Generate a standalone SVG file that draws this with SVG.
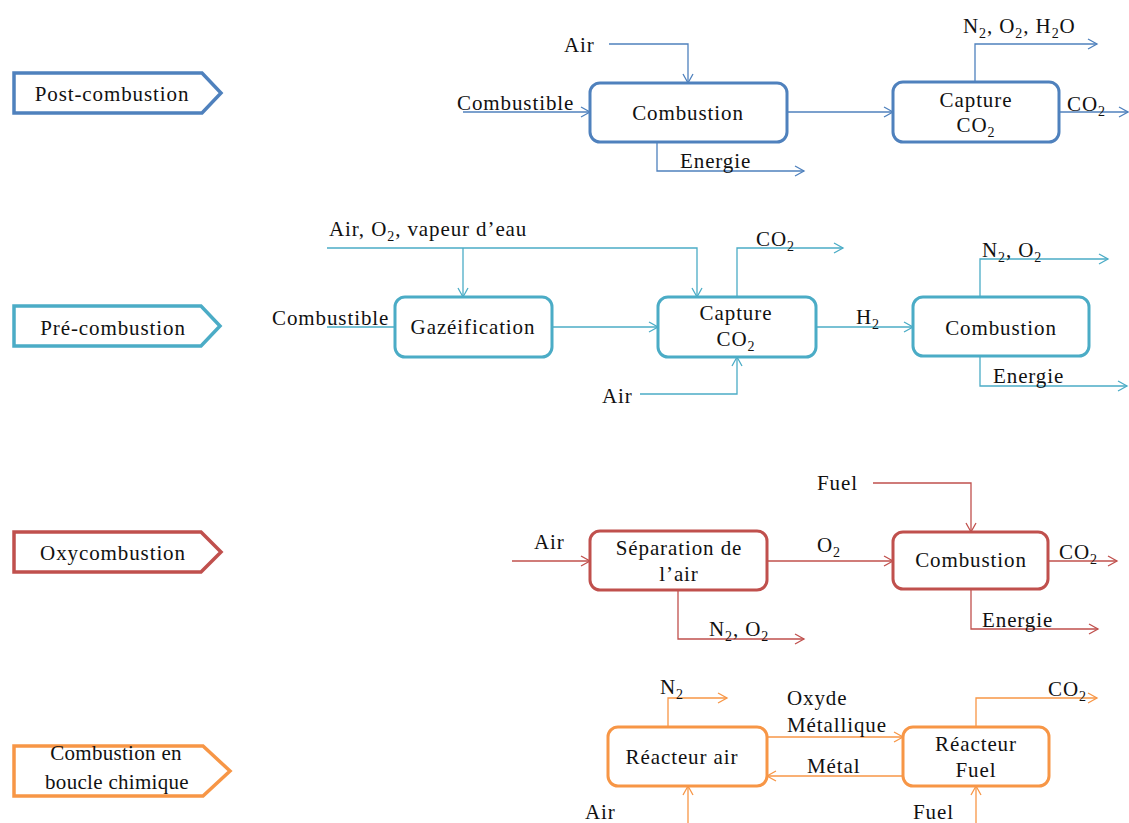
<svg xmlns="http://www.w3.org/2000/svg" width="1129" height="823" viewBox="0 0 1129 823">
<defs>
<style>
text{font-family:"Liberation Serif","Times New Roman",serif;font-size:21px;fill:#111;letter-spacing:0.9px}
.c{text-anchor:middle}
.s{font-size:14px}
.lb{stroke-width:3.5;fill:#fff}
.bx{stroke-width:3;fill:#fff}
.ln{fill:none;stroke-width:1.3}
.b{stroke:#4F81BD}.t{stroke:#4BACC6}.r{stroke:#C0504D}.o{stroke:#F79646}
</style>
<marker id="mb" markerWidth="12" markerHeight="12" refX="10" refY="6" orient="auto" markerUnits="userSpaceOnUse"><path d="M1,1 L10,6 L1,11" fill="none" stroke="#4F81BD" stroke-width="1.3"/></marker>
<marker id="mt" markerWidth="12" markerHeight="12" refX="10" refY="6" orient="auto" markerUnits="userSpaceOnUse"><path d="M1,1 L10,6 L1,11" fill="none" stroke="#4BACC6" stroke-width="1.3"/></marker>
<marker id="mr" markerWidth="12" markerHeight="12" refX="10" refY="6" orient="auto" markerUnits="userSpaceOnUse"><path d="M1,1 L10,6 L1,11" fill="none" stroke="#C0504D" stroke-width="1.3"/></marker>
<marker id="mo" markerWidth="12" markerHeight="12" refX="10" refY="6" orient="auto" markerUnits="userSpaceOnUse"><path d="M1,1 L10,6 L1,11" fill="none" stroke="#F79646" stroke-width="1.3"/></marker>
</defs>
<rect width="1129" height="823" fill="#fff"/>

<!-- connectors -->
<g id="connectors">
<!-- row 1 -->
<path class="ln b" d="M609,44 H688 V83" marker-end="url(#mb)"/>
<path class="ln b" d="M463,112 H590" marker-end="url(#mb)"/>
<path class="ln b" d="M657,142 V171 H804" marker-end="url(#mb)"/>
<path class="ln b" d="M787,112 H893" marker-end="url(#mb)"/>
<path class="ln b" d="M975,82 V44 H1097" marker-end="url(#mb)"/>
<path class="ln b" d="M1059,112 H1128" marker-end="url(#mb)"/>
<!-- row 2 -->
<path class="ln t" d="M327,248 H697 V297" marker-end="url(#mt)"/>
<path class="ln t" d="M463,248 V297" marker-end="url(#mt)"/>
<path class="ln t" d="M327,327 H395"/>
<path class="ln t" d="M552,327 H658" marker-end="url(#mt)"/>
<path class="ln t" d="M737,297 V248 H843" marker-end="url(#mt)"/>
<path class="ln t" d="M640,394 H737 V357" marker-end="url(#mt)"/>
<path class="ln t" d="M816,327 H913" marker-end="url(#mt)"/>
<path class="ln t" d="M980,297 V259 H1108" marker-end="url(#mt)"/>
<path class="ln t" d="M980,356 V386 H1127" marker-end="url(#mt)"/>
<!-- row 3 -->
<path class="ln r" d="M512,561 H590" marker-end="url(#mr)"/>
<path class="ln r" d="M767,561 H893" marker-end="url(#mr)"/>
<path class="ln r" d="M873,483 H971 V532" marker-end="url(#mr)"/>
<path class="ln r" d="M1048,561 H1117" marker-end="url(#mr)"/>
<path class="ln r" d="M971,589 V629 H1098" marker-end="url(#mr)"/>
<path class="ln r" d="M678,590 V639 H804" marker-end="url(#mr)"/>
<!-- row 4 -->
<path class="ln o" d="M668,727 V698 H727" marker-end="url(#mo)"/>
<path class="ln o" d="M767,737 H903" marker-end="url(#mo)"/>
<path class="ln o" d="M903,776 H767" marker-end="url(#mo)"/>
<path class="ln o" d="M688,823 V786" marker-end="url(#mo)"/>
<path class="ln o" d="M976,823 V786" marker-end="url(#mo)"/>
<path class="ln o" d="M976,727 V698 H1097" marker-end="url(#mo)"/>
</g>

<!-- category labels -->
<g id="label-post">
<path class="lb b" d="M14,73 H202 L221,93 L202,113 H14 Z"/>
<text class="c" x="112" y="101">Post-combustion</text>
</g>
<g id="label-pre">
<path class="lb t" d="M14,306 H201 L220,326 L201,346 H14 Z"/>
<text class="c" x="113" y="335">Pré-combustion</text>
</g>
<g id="label-oxy">
<path class="lb r" d="M14,532 H201 L221,552 L201,572 H14 Z"/>
<text class="c" x="113" y="560">Oxycombustion</text>
</g>
<g id="label-clc">
<path class="lb o" d="M14,746 H203 L230,771 L203,796 H14 Z"/>
<text class="c" x="116" y="760" style="letter-spacing:0.3px">Combustion en</text>
<text class="c" x="117" y="789" style="letter-spacing:0.3px">boucle chimique</text>
</g>

<!-- row 1 nodes -->
<g id="r1-combustion">
<rect class="bx b" x="590" y="83" width="197" height="59" rx="10"/>
<text class="c" x="688" y="120">Combustion</text>
</g>
<g id="r1-capture">
<rect class="bx b" x="893" y="82" width="166" height="60" rx="10"/>
<text class="c" x="976" y="107">Capture</text>
<text class="c" x="976" y="132">CO<tspan class="s" dy="5">2</tspan></text>
</g>
<g id="r1-texts">
<text x="564" y="52">Air</text>
<text x="457" y="110">Combustible</text>
<text x="680" y="168">Energie</text>
<text x="963" y="33">N<tspan class="s" dy="5">2</tspan><tspan dy="-5">, O</tspan><tspan class="s" dy="5">2</tspan><tspan dy="-5">, H</tspan><tspan class="s" dy="5">2</tspan><tspan dy="-5">O</tspan></text>
<text x="1067" y="111">CO<tspan class="s" dy="5">2</tspan></text>
</g>

<!-- row 2 nodes -->
<g id="r2-gazeification">
<rect class="bx t" x="395" y="297" width="157" height="60" rx="10"/>
<text class="c" x="473" y="334">Gazéification</text>
</g>
<g id="r2-capture">
<rect class="bx t" x="658" y="297" width="158" height="60" rx="10"/>
<text class="c" x="736" y="320">Capture</text>
<text class="c" x="736" y="346">CO<tspan class="s" dy="5">2</tspan></text>
</g>
<g id="r2-combustion">
<rect class="bx t" x="913" y="297" width="176" height="59" rx="10"/>
<text class="c" x="1001" y="335">Combustion</text>
</g>
<g id="r2-texts">
<text x="329" y="236">Air, O<tspan class="s" dy="5">2</tspan><tspan dy="-5">, vapeur d’eau</tspan></text>
<text x="272" y="325">Combustible</text>
<text x="756" y="246">CO<tspan class="s" dy="5">2</tspan></text>
<text x="602" y="403">Air</text>
<text x="856" y="324">H<tspan class="s" dy="5">2</tspan></text>
<text x="982" y="257">N<tspan class="s" dy="5">2</tspan><tspan dy="-5">, O</tspan><tspan class="s" dy="5">2</tspan></text>
<text x="993" y="383">Energie</text>
</g>

<!-- row 3 nodes -->
<g id="r3-separation">
<rect class="bx r" x="590" y="531" width="177" height="59" rx="10"/>
<text class="c" x="679" y="555">Séparation de</text>
<text class="c" x="679" y="581">l’air</text>
</g>
<g id="r3-combustion">
<rect class="bx r" x="893" y="532" width="155" height="57" rx="10"/>
<text class="c" x="971" y="567">Combustion</text>
</g>
<g id="r3-texts">
<text x="534" y="549">Air</text>
<text x="817" y="552">O<tspan class="s" dy="5">2</tspan></text>
<text x="817" y="490">Fuel</text>
<text x="1059" y="559">CO<tspan class="s" dy="5">2</tspan></text>
<text x="982" y="627">Energie</text>
<text x="709" y="636">N<tspan class="s" dy="5">2</tspan><tspan dy="-5">, O</tspan><tspan class="s" dy="5">2</tspan></text>
</g>

<!-- row 4 nodes -->
<g id="r4-reacteur-air">
<rect class="bx o" x="608" y="727" width="159" height="59" rx="10"/>
<text class="c" x="682" y="764">Réacteur air</text>
</g>
<g id="r4-reacteur-fuel">
<rect class="bx o" x="903" y="727" width="146" height="59" rx="10"/>
<text class="c" x="976" y="751">Réacteur</text>
<text class="c" x="976" y="777">Fuel</text>
</g>
<g id="r4-texts">
<text x="660" y="694">N<tspan class="s" dy="5">2</tspan></text>
<text x="787" y="705">Oxyde</text>
<text x="787" y="732">Métallique</text>
<text x="807" y="773">Métal</text>
<text x="1048" y="696">CO<tspan class="s" dy="5">2</tspan></text>
<text x="585" y="819">Air</text>
<text x="913" y="819">Fuel</text>
</g>
</svg>
